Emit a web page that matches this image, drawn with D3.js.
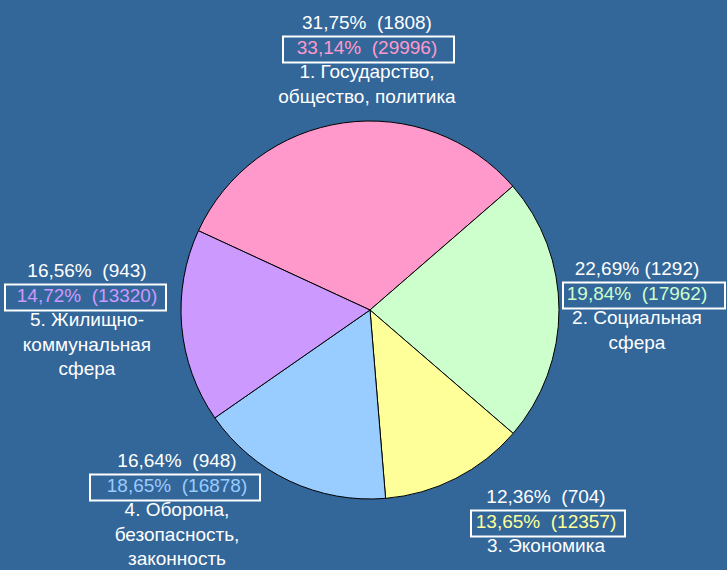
<!DOCTYPE html>
<html>
<head>
<meta charset="utf-8">
<script src="https://cdn.jsdelivr.net/npm/d3@7"></script>
<style>
  body { margin: 0; background: #336699; }
  svg { display: block; }
  text { font-family: "Liberation Sans", Arial, sans-serif; font-size: 19px; white-space: pre; }
</style>
</head>
<body>
<div id="chart"></div>
<script>
// Data
const CATEGORIES = [
	["1. Государство,", "общество, политика"],
	["2. Социальная", "сфера"],
	["3. Экономика"],
	["4. Оборона,", "безопасность,", "законность"],
	["5. Жилищно-", "коммунальная", "сфера"]
];
const COUNTS = [1808, 1292, 704, 948, 943];
const COUNT_PCT = ["31,75", "22,69", "12,36", "16,64", "16,56"];
const AMOUNTS = [29996, 17962, 12357, 16878, 13320];
const AMOUNT_PCT = ["33,14", "19,84", "13,65", "18,65", "14,72"];
const COLORS = ["#ff99cc", "#ccffcc", "#ffff99", "#99ccff", "#cc99ff"];

// Constants for layout
const FRAME_WIDTH = 727;
const FRAME_HEIGHT = 570;
const CENTER = {x: 370, y: 310};
const RADIUS = 189;
const START = -65.2 * Math.PI / 180;
const LINE_GAP = 24.5;

// label anchor (centre x, first baseline) and box extents
const LABEL_POS = [
	{x: 367, y: 29, x0: 283, x1: 454},
	{x: 637, y: 275, x0: 563, x1: 725},
	{x: 546, y: 503, x0: 471, x1: 625},
	{x: 177, y: 467, x0: 90, x1: 260},
	{x: 87, y: 277, x0: 5, x1: 166}
];

const FRAME = d3.select("#chart")
				.append("svg")
					.attr("width", FRAME_WIDTH)
					.attr("height", FRAME_HEIGHT);

FRAME.append("rect")
		.attr("width", FRAME_WIDTH)
		.attr("height", FRAME_HEIGHT)
		.attr("fill", "#336699");

const data = COUNTS.map((c, i) => ({
	i: i, count: c, name: CATEGORIES[i],
	countPct: COUNT_PCT[i], amount: AMOUNTS[i], amountPct: AMOUNT_PCT[i]
}));

const pie = d3.pie()
				.value(d => d.count)
				.sort(null)
				.startAngle(START)
				.endAngle(START + 2 * Math.PI);

const arc = d3.arc().innerRadius(0).outerRadius(RADIUS);

// slices
FRAME.append("g")
		.attr("transform", "translate(" + CENTER.x + "," + CENTER.y + ")")
	.selectAll("path")
	.data(pie(data))
	.enter().append("path")
		.attr("d", arc)
		.attr("fill", d => COLORS[d.data.i])
		.attr("stroke", "#000")
		.attr("stroke-width", 1);

// labels
const labels = FRAME.selectAll(".label")
					.data(data)
					.enter().append("g")
						.attr("class", "label");

labels.append("rect")
		.attr("x", d => LABEL_POS[d.i].x0)
		.attr("y", d => LABEL_POS[d.i].y + LINE_GAP - 17)
		.attr("width", d => LABEL_POS[d.i].x1 - LABEL_POS[d.i].x0)
		.attr("height", 26)
		.attr("fill", "none")
		.attr("stroke", "#fff")
		.attr("stroke-width", 2);

labels.append("text")
		.attr("x", d => LABEL_POS[d.i].x)
		.attr("y", d => LABEL_POS[d.i].y)
		.attr("text-anchor", "middle")
		.attr("fill", "#fff")
		.text(d => d.countPct + "%" + (d.i === 1 ? " " : "  ") + "(" + d.count + ")");

labels.append("text")
		.attr("x", d => LABEL_POS[d.i].x)
		.attr("y", d => LABEL_POS[d.i].y + LINE_GAP)
		.attr("text-anchor", "middle")
		.attr("fill", d => COLORS[d.i])
		.text(d => d.amountPct + "%  (" + d.amount + ")");

labels.each(function(d) {
	d.name.forEach((line, k) => {
		d3.select(this).append("text")
			.attr("x", LABEL_POS[d.i].x)
			.attr("y", LABEL_POS[d.i].y + LINE_GAP * (k + 2))
			.attr("text-anchor", "middle")
			.attr("fill", "#fff")
			.text(line);
	});
});
</script>
</body>
</html>
